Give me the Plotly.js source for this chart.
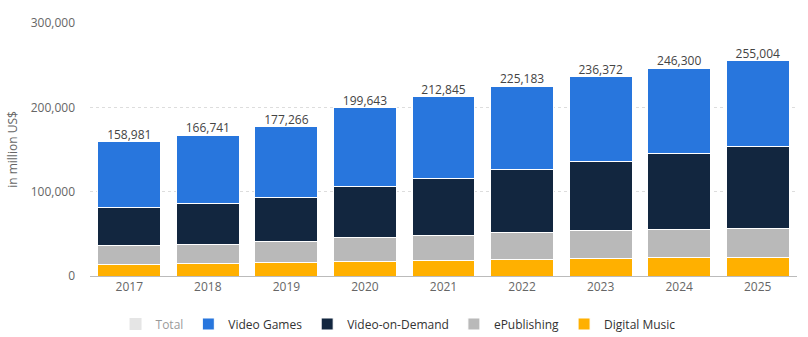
<!DOCTYPE html>
<html><head><meta charset="utf-8">
<script src="https://cdn.plot.ly/plotly-3.0.1.min.js"></script>
<style>body{margin:0;background:#fff}#c{width:808px;height:337px}</style>
</head><body><div id="c"></div>
<script>
const years = ['2017','2018','2019','2020','2021','2022','2023','2024','2025'];
const totals = [158981,166741,177266,199643,212845,225183,236372,246300,255004];
const digitalMusic = [13900,15100,16300,17500,18700,19900,21000,22200,22500];
const ePublishing = [22600,22600,25000,28500,29700,32100,33300,33300,34200];
const videoOnDemand = [45200,48700,52300,60600,67800,73700,80900,89200,96300];
const videoGames = totals.map((t,i)=>t-digitalMusic[i]-ePublishing[i]-videoOnDemand[i]);

const font = "'Open Sans', sans-serif";
const line = {color:'#fff', width:1};
const traces = [
  {type:'bar', name:'Digital Music', x:years, y:digitalMusic, marker:{color:'#ffb000', line}},
  {type:'bar', name:'ePublishing', x:years, y:ePublishing, marker:{color:'#b9b9b9', line}},
  {type:'bar', name:'Video-on-Demand', x:years, y:videoOnDemand, marker:{color:'#12263f', line}},
  {type:'bar', name:'Video Games', x:years, y:videoGames, marker:{color:'#2876dd', line}},
  {type:'bar', name:'Total', x:years, y:totals, visible:'legendonly', marker:{color:'#cccccc'}},
  {type:'scatter', mode:'text', x:years, y:totals, showlegend:false,
   text: totals.map(v=>v.toLocaleString('en-US')), textposition:'top center',
   textfont:{family:font, size:12, color:'#444'}, cliponaxis:false}
];
const layout = {
  width:808, height:337,
  margin:{l:90, r:11, t:23, b:61, autoexpand:false},
  barmode:'stack', bargap:0.2,
  paper_bgcolor:'#fff', plot_bgcolor:'#fff',
  font:{family:font, size:12, color:'#666'},
  xaxis:{type:'category', showline:true, linecolor:'#bbb', linewidth:1, ticks:'', tickfont:{size:12, color:'#666'}, showgrid:false},
  yaxis:{range:[0,300000], tickvals:[0,100000,200000,300000], tickformat:',d', showgrid:true, gridcolor:'#dddddd', griddash:'dot', zeroline:false, ticks:'', ticklen:0, ticklabelstandoff:14,
    title:{text:'in million US$', font:{size:12, color:'#666'}, standoff:10}, tickfont:{size:12, color:'#666'}},
  legend:{orientation:'h', xref:'container', yref:'container', x:0.4926, xanchor:'center', y:0.0386, yanchor:'middle', traceorder:'reversed', font:{size:12, color:'#333'}},
  showlegend:true
};
Plotly.newPlot('c', traces, layout, {displayModeBar:false, staticPlot:true});
</script></body></html>
